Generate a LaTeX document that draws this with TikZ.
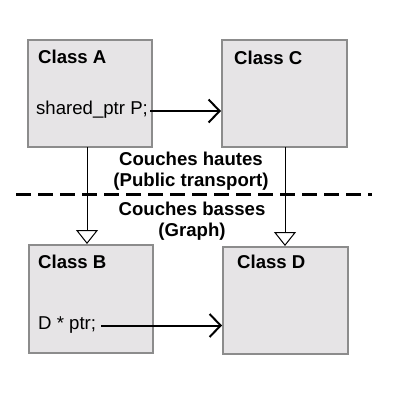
\documentclass[tikz,border=0pt]{standalone}
\usepackage{fontspec}
\setmainfont{Liberation Sans}
\usetikzlibrary{arrows.meta,calc}
\definecolor{boxfill}{HTML}{E6E4E6}
\definecolor{boxline}{HTML}{8C8C8C}
\tikzset{
  classbox/.style={draw=boxline, fill=boxfill, line width=2pt, minimum width=124pt, minimum height=107pt, inner sep=0pt},
  title/.style={font=\fontsize{18.6}{22}\selectfont\bfseries, anchor=west, inner sep=0pt},
  member/.style={font=\fontsize{18.6}{22}\selectfont, anchor=west, inner sep=0pt},
  layer/.style={font=\fontsize{18.6}{21}\selectfont\bfseries, align=center, inner sep=0pt},
  ref/.style={line width=2pt, -{Straight Barb[length=11pt,width=23pt,line width=2pt]}},
  inherit/.style={line width=1pt, -{Triangle[open,length=14pt,width=22pt,fill=white,line width=1pt]}},
  sep/.style={line width=3pt, dash pattern=on 15pt off 7pt}
}
\begin{document}
\begin{tikzpicture}[x=1pt,y=-1pt]
\useasboundingbox (0,0) rectangle (400,400);
\node[classbox] (A) at (90,93.5) {};
\node[classbox, minimum width=125pt] (C) at (284.5,93.5) {};
\node[classbox, minimum height=108pt] (B) at (91,299) {};
\node[classbox, minimum width=125pt] (D) at (285.5,300.5) {};
\node[title] (tA) at (38,57) {Class A};
\node[title] (tC) at (234,58) {Class C};
\node[title] (tB) at (38,262) {Class B};
\node[title] (tD) at (237,262) {Class D};
\node[member] (pA) at (36,110) {shared\_ptr P;};
\node[member] (pB) at (38,325) {D * ptr;};
\coordinate (s1) at (16,194);
\coordinate (s2) at (372,194);
\draw[sep] (s1) -- (s2);
\node[layer] (up) at (191,171) {Couches hautes\\(Public transport)};
\node[layer] (low) at (192,221) {Couches basses\\(Graph)};
\coordinate (a1) at (150,111);
\coordinate (b1) at (101,325.5);
\draw[ref] (a1) -- (a1 -| C.west);
\draw[ref] (b1) -- (b1 -| D.west);
\coordinate (v1) at (87,147);
\coordinate (v2) at (285,147);
\draw[inherit] (v1) -- (v1 |- B.north);
\draw[inherit] (v2) -- (v2 |- D.north);
\end{tikzpicture}
\end{document}
